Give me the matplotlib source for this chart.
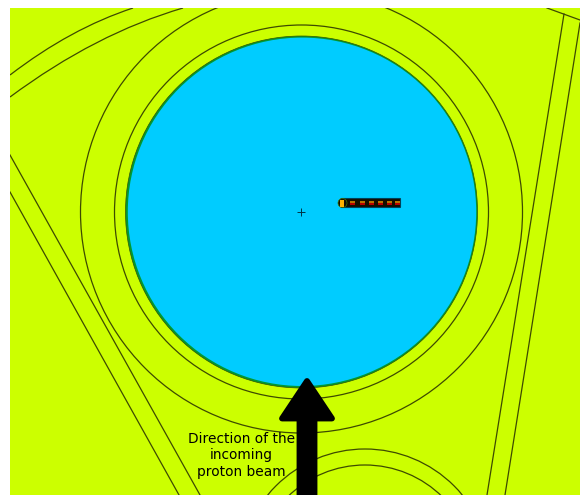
import numpy as np
import matplotlib
matplotlib.use('Agg')
import matplotlib.pyplot as plt
from matplotlib.patches import Circle, Rectangle, Polygon, PathPatch, FancyBboxPatch
from matplotlib.path import Path

# geometry (pixel coordinates)
centro = (301.5, 212)
raio_azul = 174.2
raio_verde = 176
raios_aneis = [187, 221]

centro_baixo = (365, 575)
raios_baixo = [126, 110]

retas_x = [[10, 200], [10, 179], [547, 580], [564, 487], [580, 505]]
retas_y = [[155, 495], [192, 495], [8, 20], [14, 495], [23, 495]]

curvas = [
    [(10, 75), (70.5, 28.5), (133, 8)],
    [(10, 97), (95.5, 33.5), (183, 8)],
]

segmentos_x = [352, 362, 371, 380, 389, 397]

seta_x = [307, 332, 314.5, 314.5, 299.5, 299.5, 282]
seta_y = [381, 418.5, 418.5, 497, 497, 418.5, 418.5]

texto = 'Direction of the\nincoming\nproton beam'

AMARELO = '#CCFF00'
AZUL = '#00CCFF'
VERDE = '#009933'
LINHA = '#3d4a00'

fig = plt.figure(figsize=(5.8, 4.95), dpi=100, facecolor='white')
ax = fig.add_axes([10 / 580, 0, 570 / 580, 487 / 495], facecolor=AMARELO)
ax.set_xlim(10, 580)
ax.set_ylim(495, 8)
ax.set_xticks([])
ax.set_yticks([])
for s in ax.spines.values():
    s.set_visible(False)

# outer rings and straight edges
for r in raios_aneis:
    ax.add_patch(Circle(centro, r, fill=False, ec=LINHA, lw=0.9))
for r in raios_baixo:
    ax.add_patch(Circle(centro_baixo, r, fill=False, ec=LINHA, lw=0.9))
for xs, ys in zip(retas_x, retas_y):
    ax.plot(xs, ys, color=LINHA, lw=0.9)
for c in curvas:
    caminho = Path(c, [Path.MOVETO, Path.CURVE3, Path.CURVE3])
    ax.add_patch(PathPatch(caminho, fill=False, ec=LINHA, lw=0.9))

# vessel
ax.add_patch(Circle(centro, raio_verde, fc=VERDE, ec='#335500', lw=0.5))
ax.add_patch(Circle((centro[0] + 0.5, centro[1] - 0.2), raio_azul, fc=AZUL, ec='none'))

# centre mark
ax.plot([301], [212], marker='+', ms=6, mew=0.7, color='#003344')

# target
ax.add_patch(FancyBboxPatch((341, 198.5), 59.5, 9, boxstyle='round,pad=0,rounding_size=0.5',
                            fc='#140e00', ec='#00405a', lw=0.8))
ax.add_patch(Circle((342.5, 203), 4.5, fc='#140e00', ec='#447700', lw=0.5))
ax.add_patch(Rectangle((340, 199.5), 3.5, 7, fc='#FFB300', ec='none'))
for x in segmentos_x:
    ax.add_patch(Rectangle((x - 2.5, 200.5), 5, 2, fc='#B87400', ec='none'))
    ax.add_patch(Rectangle((x - 2.5, 203), 5, 2.2, fc='#B80000', ec='none'))

# beam arrow
ax.add_patch(Polygon(np.column_stack([seta_x, seta_y]), closed=True, fc='black', ec='black',
                     lw=4.2, joinstyle='round'))
ax.text(241.5, 455.5, texto, ha='center', va='center', fontsize=9.9, color='black',
        linespacing=1.22, family='DejaVu Sans')

fig.savefig('out.png', dpi=100)
